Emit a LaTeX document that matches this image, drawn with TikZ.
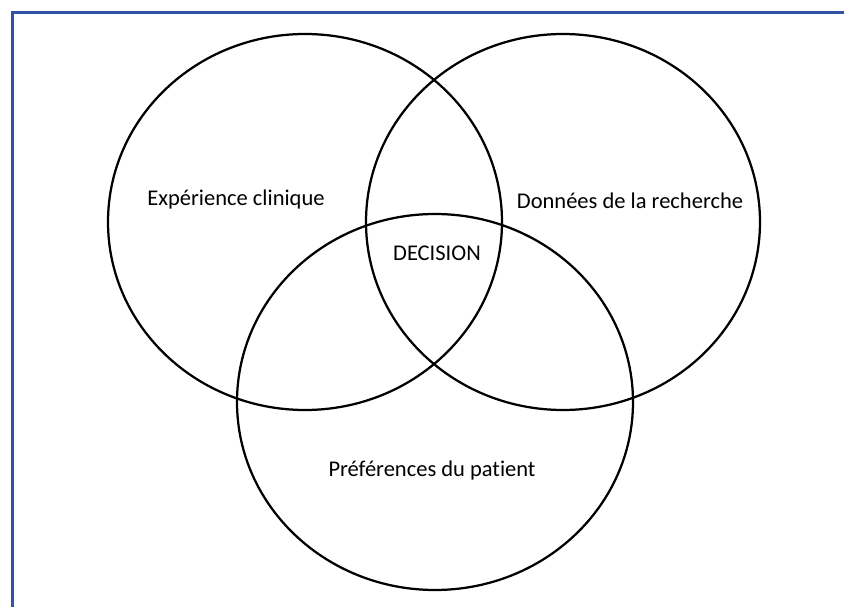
\documentclass[tikz,border=0pt]{standalone}
\usepackage{fontspec}
\setmainfont{Carlito}[Ligatures=NoCommon]
\definecolor{frameblue}{RGB}{47,84,166}
\tikzset{
  venn/.style={line width=1.6pt, black},
  lbl/.style={font=\fontsize{16}{19}\selectfont, inner sep=0pt}
}
\begin{document}
\begin{tikzpicture}[x=0.025cm, y=0.025cm]
\useasboundingbox (0,0) rectangle (844,607);

\draw[frameblue, line width=2pt] (12.5,0) -- (12.5,594.5) -- (844,594.5);

\draw[venn] (305,385) ellipse [x radius=197, y radius=188];
\draw[venn] (563,385) ellipse [x radius=197, y radius=188];
\draw[venn] (435,205) ellipse [x radius=198, y radius=188];

\node[lbl] (clin) at (236,407) {Expérience clinique};
\node[lbl] (rech) at (630,406) {Données de la recherche};
\node[lbl] (deci) at (437,354) {DECISION};
\node[lbl] (pref) at (432,136) {Préférences du patient};

\end{tikzpicture}
\end{document}
